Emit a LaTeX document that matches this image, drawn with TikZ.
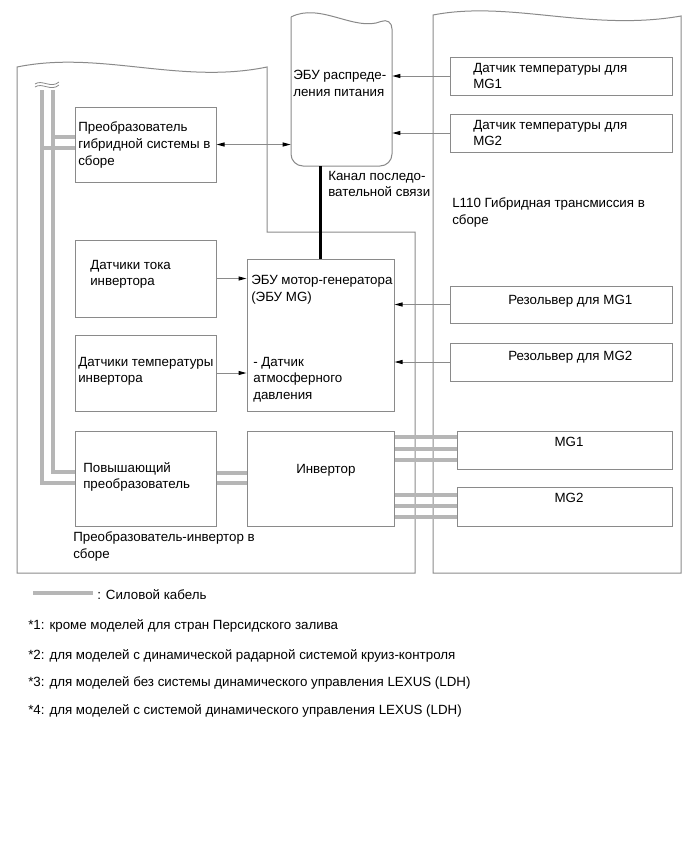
\documentclass[tikz,border=0pt]{standalone}
\usepackage{fontspec}
\setmainfont{Liberation Sans}
\usetikzlibrary{arrows.meta,fit}
\definecolor{linegray}{RGB}{138,138,138}
\definecolor{cablegray}{RGB}{182,182,182}
\newcommand{\dgtext}{\fontsize{10}{12.4}\selectfont}
\tikzset{
  house/.style={draw=linegray,line width=0.75pt},
  blk/.style={draw=linegray,line width=0.75pt,inner sep=0pt},
  txt/.style={anchor=north west,align=left,inner sep=0pt,yshift=7.2pt,
    execute at begin node=\strut},
  sig/.style={draw=linegray,line width=0.75pt,
    -{Triangle[length=6pt,width=3pt,color=black]}},
  sigboth/.style={draw=linegray,line width=0.75pt,
    {Triangle[length=6pt,width=3pt,color=black]}-{Triangle[length=6pt,width=3pt,color=black]}},
  bus/.style={black,line width=1.9pt},
  cable/.style={draw=cablegray,line width=3.6pt},
  brk/.style={draw=linegray,line width=0.6pt},
}

\begin{document}
\begin{tikzpicture}[x=0.75pt,y=-0.75pt,every node/.style={font=\dgtext}]
  \useasboundingbox (0,0) rectangle (690,854);
  % housings
  \draw[house] (17,67) .. controls (100,50) and (180,85) .. (267,67) -- (267,232)
    -- (415,232) -- (415,573) -- (17,573) -- cycle;
  \draw[house] (433,15) .. controls (510,0) and (590,32) .. (681,16) -- (681,573)
    -- (433,573) -- cycle;
  \draw[house] (291,17) [rounded corners=9pt] -- (291,166) -- (392,166) -- (392,17)
    [sharp corners] .. controls (355,32) and (320,2) .. (291,17);
  \node[fit={(291,17) (392,166)},inner sep=0pt] (pcu) {};

  % blocks
  \node[blk,fit={(75,107) (216,182)}] (hvc) {};
  \node[blk,fit={(75,240) (216,317)}] (isen) {};
  \node[blk,fit={(75,335) (216,411)}] (itmp) {};
  \node[blk,fit={(247,259) (394,411)}] (mgecu) {};
  \node[blk,fit={(75,431) (216,526)}] (boost) {};
  \node[blk,fit={(247,431) (394,526)}] (inv) {};
  \node[blk,fit={(450,57) (672,95)}] (tmg1) {};
  \node[blk,fit={(450,114) (672,152)}] (tmg2) {};
  \node[blk,fit={(450,286) (672,323)}] (rs1) {};
  \node[blk,fit={(450,343) (672,381)}] (rs2) {};
  \node[blk,fit={(457,431) (672,469)}] (mg1) {};
  \node[blk,fit={(457,487) (672,526)}] (mg2) {};

  % texts
  \node[txt] (lpcu) at (293,80) {ЭБУ распреде-\\ления питания};
  \node[txt] (ltmg1) at (473,72.5) {Датчик температуры для\\MG1};
  \node[txt] (ltmg2) at (473,129.5) {Датчик температуры для\\MG2};
  \node[txt] (lhvc) at (78,131.5) {Преобразователь\\гибридной системы в\\сборе};
  \node[txt] (lbus) at (328,180.5) {Канал последо-\\вательной связи};
  \node[txt] (ltm) at (452,207.5) {L110 Гибридная трансмиссия в\\сборе};
  \node[txt] (lisen) at (90,269.5) {Датчики тока\\инвертора};
  \node[txt] (lmgecu) at (251,284.5) {ЭБУ мотор-генератора\\(ЭБУ MG)};
  \node[txt] (litmp) at (78,366.5) {Датчики температуры\\инвертора};
  \node[txt] (lbaro) at (253,366.5) {- Датчик\\атмосферного\\давления};
  \node[txt] (lrs1) at (508,302.5) {Резольвер для MG1};
  \node[txt] (lrs2) at (508,358.5) {Резольвер для MG2};
  \node[txt] (lboost) at (83,471.5) {Повышающий\\преобразователь};
  \node[txt] (linv) at (296,471.5) {Инвертор};
  \node[anchor=base,inner sep=0pt] (lmg1) at (569,446) {MG1};
  \node[anchor=base,inner sep=0pt] (lmg2) at (569,502) {MG2};
  \node[txt] (lpcusm) at (73,541.5) {Преобразователь-инвертор в\\сборе};

  % signals
  \draw[sigboth] (hvc.east) -- (hvc.east -| pcu.west);
  \draw[sig] (tmg1.west) -- (tmg1.west -| pcu.east);
  \draw[sig] (tmg2.west) -- (tmg2.west -| pcu.east);
  \draw[sig] (isen.east) -- (isen.east -| mgecu.west);
  \draw[sig] (itmp.east) -- (itmp.east -| mgecu.west);
  \draw[sig] (rs1.west) -- (rs1.west -| mgecu.east);
  \draw[sig] (rs2.west) -- (rs2.west -| mgecu.east);
  \draw[bus] (mgecu.north) -- (mgecu.north |- pcu.south);

  % power cables
  \coordinate (ctop1) at (42,90);
  \coordinate (ctop2) at (53,90);
  \draw[brk] (35,84) .. controls (42,79) and (51,89) .. (59,82);
  \draw[brk] (35,87) .. controls (42,82) and (51,92) .. (59,85);
  \draw[cable] (ctop1) |- (boost.west |- 0,483);
  \draw[cable] (ctop2) |- (boost.west |- 0,472);
  \draw[cable] (ctop2 |- 0,137) -- (hvc.west |- 0,137);
  \draw[cable] (ctop1 |- 0,148) -- (hvc.west |- 0,148);
  \foreach \y in {473,483}
    \draw[cable] (boost.east |- 0,\y) -- (inv.west |- 0,\y);
  \foreach \y in {437,449,460}
    \draw[cable] (inv.east |- 0,\y) -- (mg1.west |- 0,\y);
  \foreach \y in {495,506,517}
    \draw[cable] (inv.east |- 0,\y) -- (mg2.west |- 0,\y);

  % legend and notes
  \coordinate (lg1) at (33,593);
  \coordinate (lg2) at (93,593);
  \draw[cable] (lg1) -- (lg2);
  \node[txt] (llg) at (97,597.5) {: Силовой кабель};
  \node[txt] (n1) at (28,627.5) {*1: кроме моделей для стран Персидского залива};
  \node[txt] (n2) at (28,657.5) {*2: для моделей с динамической радарной системой круиз-контроля};
  \node[txt] (n3) at (28,684.5) {*3: для моделей без системы динамического управления LEXUS (LDH)};
  \node[txt] (n4) at (28,712.5) {*4: для моделей с системой динамического управления LEXUS (LDH)};
\end{tikzpicture}
\end{document}
